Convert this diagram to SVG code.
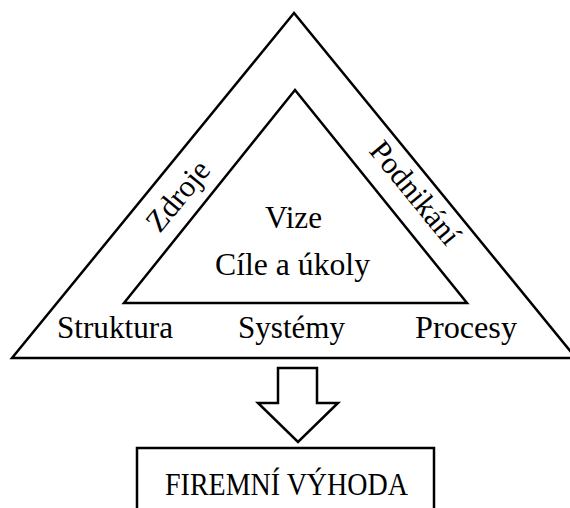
<svg xmlns="http://www.w3.org/2000/svg" width="570" height="508" viewBox="0 0 570 508">
<style>
.ln{fill:#fff;stroke:#000;stroke-width:2.5;stroke-linejoin:miter}
.t{font-family:"Liberation Serif","Times New Roman",serif;font-size:32px;fill:#000;text-anchor:middle}
.r{font-family:"Liberation Serif","Times New Roman",serif;font-size:31px;fill:#000;text-anchor:middle}
</style>
<rect width="570" height="508" fill="#fff"/>
<g id="outer">
<polygon class="ln" points="294,13 12,358 576,358"/>
<text class="r" transform="translate(178,196) rotate(-50.7)" y="10" textLength="82" lengthAdjust="spacingAndGlyphs">Zdroje</text>
<text class="r" transform="translate(415,193) rotate(50.7)" y="10" textLength="124" lengthAdjust="spacingAndGlyphs">Podnikání</text>
<text class="t" x="115" y="338" textLength="116" lengthAdjust="spacingAndGlyphs">Struktura</text>
<text class="t" x="291.5" y="338" textLength="107" lengthAdjust="spacingAndGlyphs">Systémy</text>
<text class="t" x="466" y="338" textLength="102" lengthAdjust="spacingAndGlyphs">Procesy</text>
</g>
<g id="inner">
<polygon class="ln" points="295,90 124,303 467,303"/>
<text class="t" x="293.5" y="228" textLength="57" lengthAdjust="spacingAndGlyphs">Vize</text>
<text class="t" x="292.5" y="275" textLength="155" lengthAdjust="spacingAndGlyphs">Cíle a úkoly</text>
</g>
<g id="connectors">
<polygon class="ln" stroke-width="2" points="278,368 317,368 317,403 338,403 298,442 258,403 278,403"/>
</g>
<g id="result">
<rect class="ln" x="137" y="448" width="297" height="80"/>
<text class="t" x="286.5" y="495" textLength="243" lengthAdjust="spacingAndGlyphs">FIREMNÍ VÝHODA</text>
</g>
</svg>
